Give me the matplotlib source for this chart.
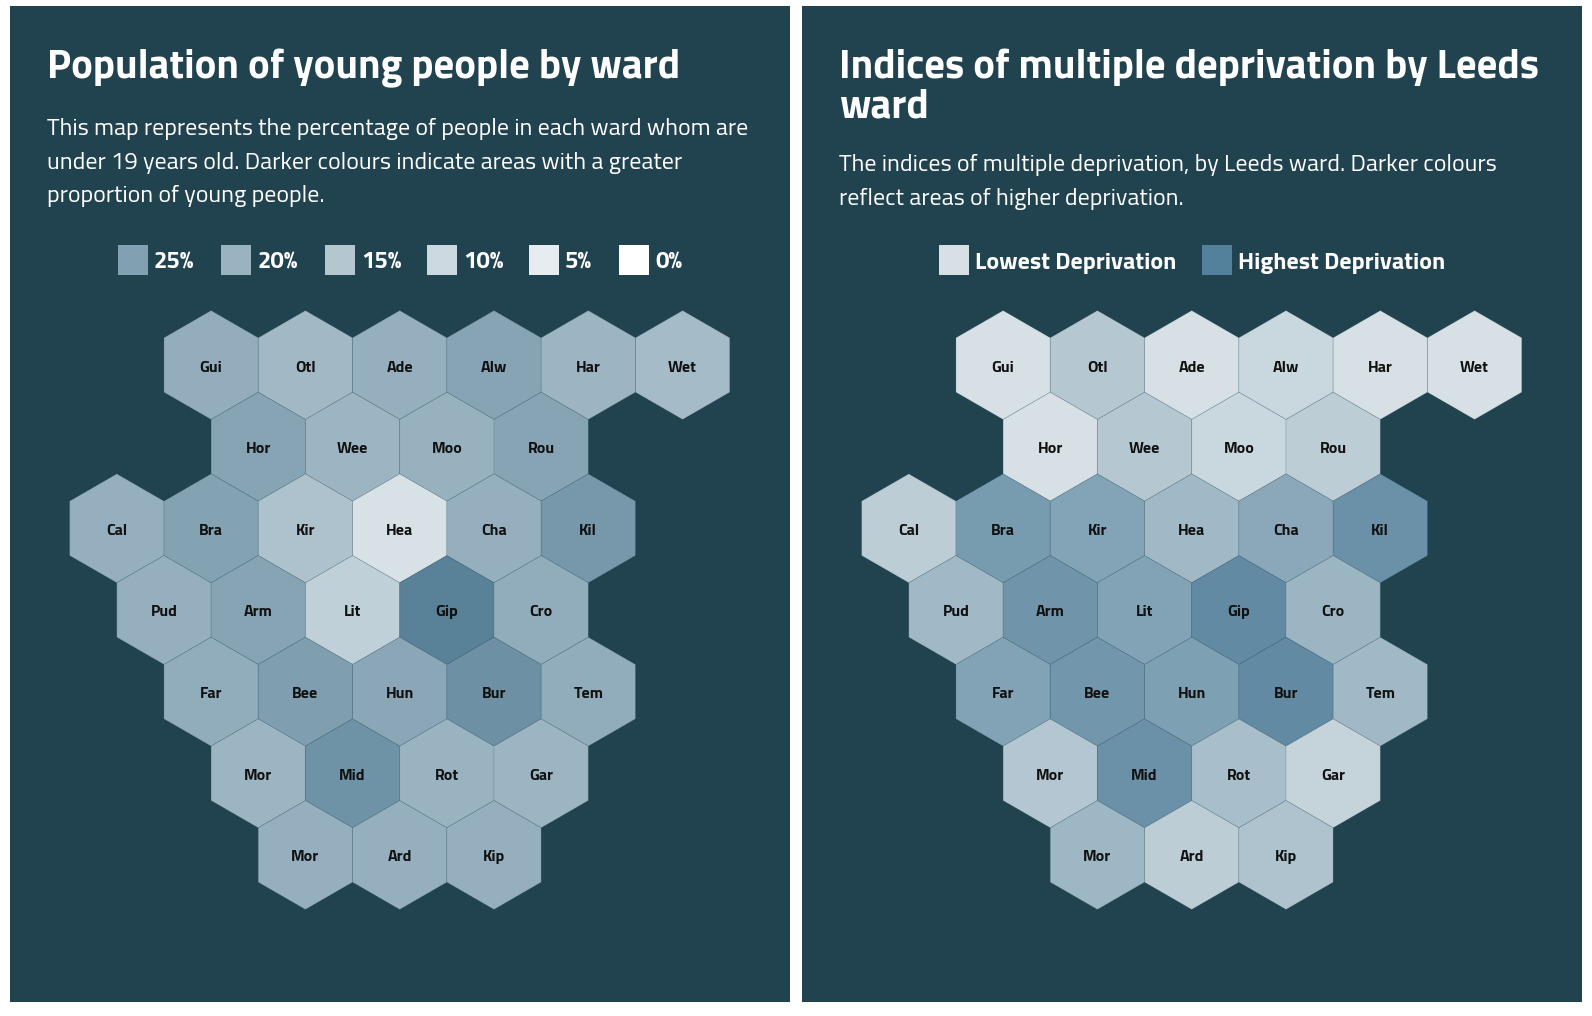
"""Leeds ward hex maps: young people share and indices of multiple deprivation."""

import matplotlib

matplotlib.use("Agg")
import matplotlib.pyplot as plt
from matplotlib.colors import LinearSegmentedColormap, Normalize
from matplotlib.patches import Rectangle, RegularPolygon

# ward hex grid (column in half-hex steps, row index)
WARDS = ["Gui", "Otl", "Ade", "Alw", "Har", "Wet",
         "Hor", "Wee", "Moo", "Rou",
         "Cal", "Bra", "Kir", "Hea", "Cha", "Kil",
         "Pud", "Arm", "Lit", "Gip", "Cro",
         "Far", "Bee", "Hun", "Bur", "Tem",
         "Mor", "Mid", "Rot", "Gar",
         "Mor", "Ard", "Kip"]
HEX_COL = [2, 4, 6, 8, 10, 12,
           3, 5, 7, 9,
           0, 2, 4, 6, 8, 10,
           1, 3, 5, 7, 9,
           2, 4, 6, 8, 10,
           3, 5, 7, 9,
           4, 6, 8]
HEX_ROW = [0] * 6 + [1] * 4 + [2] * 6 + [3] * 5 + [4] * 5 + [5] * 4 + [6] * 3

# % of residents under 19
YOUNG_PCT = [21.5, 18.5, 21, 24, 19.5, 18,
             24, 19.5, 20.5, 24,
             21, 24.5, 16, 8, 21, 27,
             21, 24, 12.5, 33, 22,
             22, 25.5, 23, 29, 22,
             19.5, 28.5, 20, 19.5,
             21, 21, 21]

# relative deprivation, 0 = lowest, 1 = highest
IMD_SCORE = [0.0, 0.25, 0.0, 0.1, 0.0, 0.0,
             0.0, 0.25, 0.1, 0.2,
             0.2, 0.72, 0.63, 0.41, 0.58, 0.82,
             0.41, 0.78, 0.64, 0.88, 0.45,
             0.64, 0.76, 0.67, 0.88, 0.41,
             0.27, 0.82, 0.35, 0.13,
             0.43, 0.2, 0.3]

YOUNG_LEGEND = [25, 20, 15, 10, 5, 0]
IMD_LEGEND = [(0.0, "Lowest Deprivation"), (1.0, "Highest Deprivation")]

BG = "#21424f"
W, H = 1592, 1016
HEX_W = 94.3
HEX_R = HEX_W / 3 ** 0.5
ROW_H = 1.5 * HEX_R

FONT = ["Titillium Web", "Saira SemiCondensed", "Roboto"]

young_cmap = LinearSegmentedColormap.from_list("young", ["#ffffff", "#4f7a92"])
young_norm = Normalize(0, 35)
imd_cmap = LinearSegmentedColormap.from_list("imd", ["#d6e0e5", "#53809a"])
imd_norm = Normalize(0, 1)

fig = plt.figure(figsize=(W / 100, H / 100), dpi=100)
fig.patch.set_facecolor("white")
ax = fig.add_axes([0, 0, 1, 1])
ax.set_xlim(0, W)
ax.set_ylim(H, 0)
ax.axis("off")


def draw_panel(x_off, values, cmap, norm):
    ax.add_patch(Rectangle((x_off + 10, 6), 780, 996, fc=BG, ec="none", zorder=0))
    x0 = x_off + 116.8
    y0 = 365
    for name, c, r, v in zip(WARDS, HEX_COL, HEX_ROW, values):
        cx = x0 + c * HEX_W / 2
        cy = y0 + r * ROW_H
        ax.add_patch(RegularPolygon((cx, cy), 6, radius=HEX_R, orientation=0,
                                    fc=cmap(norm(v)), ec=(0.15, 0.3, 0.36, 0.18),
                                    lw=0.6, zorder=2))
        # va="center" leaves room for descenders, so nudge down a touch
        ax.text(cx, cy + 2.5, name, ha="center", va="center", fontsize=11.5,
                weight="bold", color="#111111", family=FONT, zorder=3)


draw_panel(0, YOUNG_PCT, young_cmap, young_norm)
draw_panel(792, IMD_SCORE, imd_cmap, imd_norm)

title_kw = dict(color="white", weight="bold", family=FONT, fontsize=29.3, va="baseline")
body_kw = dict(color="white", family=FONT, fontsize=17.2, va="baseline")

ax.text(47, 78, "Population of young people by ward", **title_kw)
for i, line in enumerate(["This map represents the percentage of people in each ward whom are",
                          "under 19 years old. Darker colours indicate areas with a greater",
                          "proportion of young people."]):
    ax.text(47, 135 + i * 33.5, line, **body_kw)

ax.text(839, 78, "Indices of multiple deprivation by Leeds", **title_kw)
ax.text(839, 117, "ward", **title_kw)
for i, line in enumerate(["The indices of multiple deprivation, by Leeds ward. Darker colours",
                          "reflect areas of higher deprivation."]):
    ax.text(839, 171.5 + i * 33.5, line, **body_kw)

# legends
sw = 30
leg_kw = dict(color="white", weight="bold", family=FONT, fontsize=17.3, va="center")
for x, pct in zip([117.8, 221.3, 324.9, 427.4, 529, 619.3], YOUNG_LEGEND):
    ax.add_patch(Rectangle((x, 245), sw, sw, fc=young_cmap(young_norm(pct)), ec="none"))
    ax.text(x + sw + 6, 263, f"{pct}%", **leg_kw)
for x, (v, label) in zip([939, 1202], IMD_LEGEND):
    ax.add_patch(Rectangle((x, 245), sw, sw, fc=imd_cmap(imd_norm(v)), ec="none"))
    ax.text(x + sw + 6, 263, label, **leg_kw)

fig.savefig("out.png", dpi=100, facecolor=fig.get_facecolor())
